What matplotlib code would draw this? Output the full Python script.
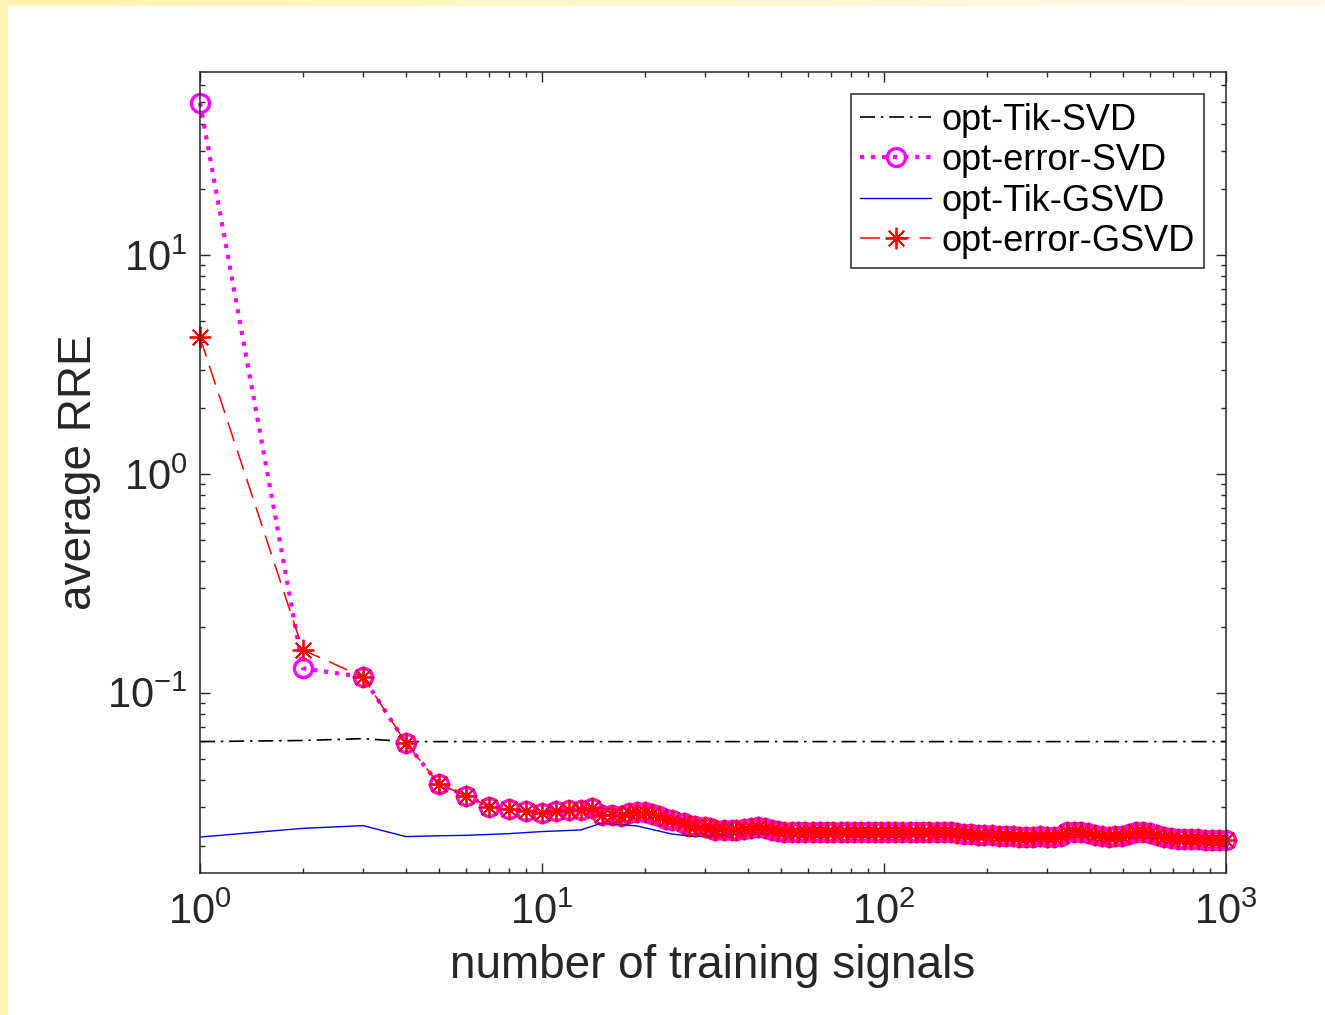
import numpy as np
import matplotlib
matplotlib.use("Agg")
import matplotlib.pyplot as plt
from matplotlib.colors import LinearSegmentedColormap

plt.rcParams['font.family'] = ['Liberation Sans', 'DejaVu Sans']
plt.rcParams['mathtext.fontset'] = 'custom'
plt.rcParams['mathtext.rm'] = 'Liberation Sans'
plt.rcParams['mathtext.it'] = 'Liberation Sans'
plt.rcParams['mathtext.bf'] = 'Liberation Sans'

# number of training signals (shared by both opt-error curves)
n_train = [1, 2, 3, 4, 5, 6, 7, 8, 9, 10, 11, 12, 13, 14, 15, 16, 17, 18, 19, 20,
           21, 22, 23, 24, 26, 27, 28, 30, 31, 32, 34, 36, 37, 39, 41, 43, 45, 47,
           49, 51, 54, 56, 59, 62, 65, 68, 71, 75, 78, 82, 86, 90, 94, 98, 103,
           108, 113, 119, 124, 130, 136, 143, 150, 157, 164, 172, 180, 188, 197,
           207, 217, 227, 238, 249, 261, 273, 286, 300, 314, 329, 344, 361, 378,
           396, 414, 434, 455, 476, 499, 523, 547, 573, 601, 629, 659, 690, 723,
           757, 793, 831, 870, 912, 955, 1000]

# both opt-error curves coincide from 3 training signals on
err_tail = [0.118, 0.0591, 0.0383, 0.0338, 0.0302, 0.0294, 0.0289, 0.0281, 0.0289,
            0.0291, 0.0291, 0.0297, 0.0275, 0.0277, 0.0273, 0.0283, 0.0286, 0.0284,
            0.0280, 0.0272, 0.0264, 0.0262, 0.0253, 0.0247, 0.0245, 0.0244, 0.0240,
            0.0237, 0.0236, 0.0235, 0.0237, 0.0239, 0.0240, 0.0243, 0.0241, 0.0236,
            0.0233, 0.0232, 0.0232, 0.0231, 0.0232, 0.0232, 0.0231, 0.0232, 0.0232,
            0.0231, 0.0232, 0.0232, 0.0231, 0.0232, 0.0232, 0.0231, 0.0232, 0.0231,
            0.0231, 0.0232, 0.0231, 0.0230, 0.0231, 0.0231, 0.0230, 0.0230, 0.0229,
            0.0227, 0.0225, 0.0224, 0.0224, 0.0223, 0.0222, 0.0221, 0.0221, 0.0220,
            0.0220, 0.0220, 0.0221, 0.0220, 0.0220, 0.0222, 0.0230, 0.0231, 0.0232,
            0.0229, 0.0224, 0.0221, 0.0220, 0.0221, 0.0222, 0.0227, 0.0231, 0.0232,
            0.0229, 0.0224, 0.0218, 0.0216, 0.0215, 0.0215, 0.0214, 0.0215, 0.0213,
            0.0212, 0.0212, 0.0213]
err_svd = [49.8, 0.1294] + err_tail
err_gsvd = [4.21, 0.157] + err_tail

tik_svd_n = [1, 2, 3, 4, 10, 100, 1000]
tik_svd = [0.0598, 0.0605, 0.0617, 0.0598, 0.0598, 0.0598, 0.0598]

tik_gsvd_n = [1, 2, 3, 4, 5, 6, 8, 10, 13, 15, 19, 24, 28, 40, 60, 100, 200, 400, 700, 1000]
tik_gsvd = [0.0219, 0.0240, 0.0247, 0.0220, 0.0222, 0.0223, 0.0227, 0.0232, 0.0236,
            0.0254, 0.0246, 0.0226, 0.0220, 0.0226, 0.0228, 0.0228, 0.0222, 0.0222,
            0.0214, 0.0211]

fig = plt.figure(figsize=(13.25, 10.15), dpi=100)
fig.patch.set_facecolor('white')

# pale yellow page border (top strip fades to the right)
strip = fig.add_axes([0, 1 - 6 / 1015, 1, 6 / 1015])
cmap = LinearSegmentedColormap.from_list('pg', ['#fff1b0', '#fffbe8'])
strip.imshow(np.linspace(0, 1, 256)[None, :], aspect='auto', cmap=cmap)
strip.axis('off')
left_strip = fig.add_axes([0, 0, 8 / 1325, 1])
left_strip.set_facecolor('#fff2b3')
left_strip.set_xticks([])
left_strip.set_yticks([])
for s in left_strip.spines.values():
    s.set_visible(False)

ax = fig.add_axes([200 / 1325, 142 / 1015, 1025.7 / 1325, 801 / 1015])

ax.plot(tik_svd_n, tik_svd, color='black', lw=1.2, dashes=(9, 3.5, 1.5, 3.5),
        label='opt-Tik-SVD')
ax.plot(n_train, err_svd, color='magenta', ls=':', lw=3.0, marker='o', ms=13,
        mfc='none', mec='magenta', mew=2.4, label='opt-error-SVD', clip_on=False)
ax.plot(tik_gsvd_n, tik_gsvd, color='blue', lw=1.0, label='opt-Tik-GSVD')
ax.plot(n_train, err_gsvd, color='red', lw=1.1, dashes=(13, 6.5), marker=(8, 2, 0),
        ms=15.5, mec='red', mew=1.3, label='opt-error-GSVD', clip_on=False)

ax.set_xscale('log')
ax.set_yscale('log')
ax.set_xlim(1, 1000)
ax.set_ylim(0.0150, 68.8)

dark = '#262626'
for s in ax.spines.values():
    s.set_color(dark)
    s.set_linewidth(1.1)
ax.tick_params(which='both', direction='in', top=True, right=True, colors=dark,
               labelsize=30, width=1.0)
ax.tick_params(which='major', length=7.5, pad=9)
ax.tick_params(axis='x', which='major', pad=14)
ax.tick_params(which='minor', length=3.8)

ax.set_xlabel('number of training signals', fontsize=33, color=dark, labelpad=8)
ax.set_ylabel('average RRE', fontsize=33, color=dark, labelpad=4)

leg = ax.legend(loc='upper right', fontsize=26, fancybox=False, framealpha=1,
                edgecolor=dark, handlelength=1.95, handletextpad=0.3,
                labelspacing=0.15, borderpad=0.25, borderaxespad=0.6)
leg.get_frame().set_linewidth(1.1)

fig.savefig('out.png', dpi=100)
